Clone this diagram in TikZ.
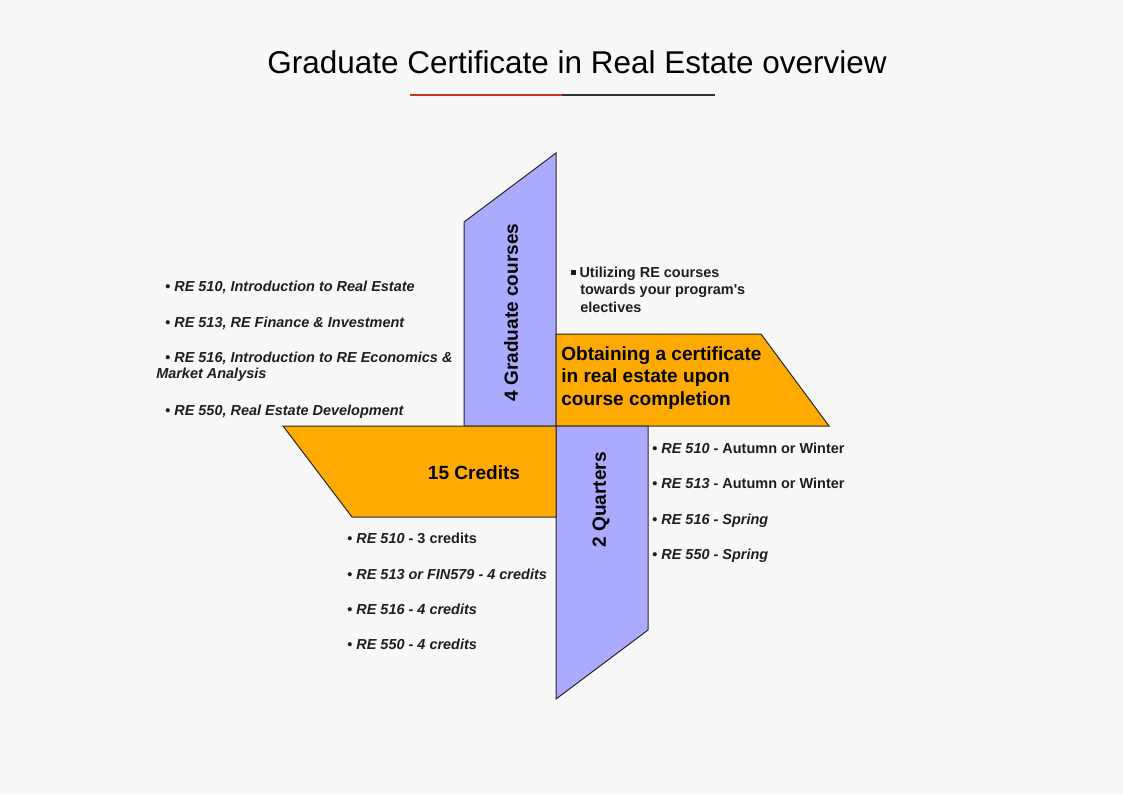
\documentclass[tikz,border=0pt]{standalone}
\usepackage{fontspec}
\setmainfont{Liberation Sans}

\begin{document}
\begin{tikzpicture}[x=0.75pt,y=0.75pt,yscale=-1,xscale=1,
    bluepanel/.style={draw={rgb, 255:red, 40; green, 40; blue, 40 }, line width=0.75pt, fill={rgb, 255:red, 170; green, 170; blue, 255 }},
    orangepanel/.style={draw={rgb, 255:red, 40; green, 40; blue, 40 }, line width=0.75pt, fill={rgb, 255:red, 255; green, 170; blue, 0 }},
    bigtext/.style={font=\fontsize{14.3}{17}\selectfont\bfseries, inner sep=0pt},
    listtext/.style={font=\fontsize{10.85}{13}\selectfont\bfseries, text={rgb, 255:red, 30; green, 30; blue, 30 }, inner sep=0pt, anchor=base west}]

    %Shape: Background
    \fill [fill={rgb, 255:red, 248; green, 248; blue, 248 }] (0,0) rectangle (1123,794);
    \useasboundingbox (0,0) rectangle (1123,794);

    % Text Node
    \draw (577,73) node (title) [anchor=base, inner sep=0pt, font=\fontsize{23.6}{28}\selectfont] {Graduate Certificate in Real Estate overview};
    %Straight Lines
    \draw [color={rgb, 255:red, 192; green, 57; blue, 43 }, line width=1.5pt] (410,94.5) -- (562,94.5);
    \draw [color={rgb, 255:red, 51; green, 51; blue, 51 }, line width=1.5pt] (562,94.5) -- (715,94.5);

    %Shape: Polygon [top]
    \draw [bluepanel] (464,222) -- (556,153) -- (556,426) -- (464,426) -- cycle;
    %Shape: Polygon [right]
    \draw [orangepanel] (556,334) -- (761,334) -- (829,426) -- (556,426) -- cycle;
    %Shape: Polygon [bottom]
    \draw [bluepanel] (556,426) -- (648,426) -- (648,630) -- (556,699) -- cycle;
    %Shape: Polygon [left]
    \draw [orangepanel] (283,426) -- (556,426) -- (556,517) -- (352,517) -- cycle;

    % Text Node
    \draw (511,312.5) node (courses) [bigtext, rotate=90] {4 Graduate courses};
    % Text Node
    \draw (601,500) node (quarters) [bigtext, rotate=90] {2 Quarters};
    % Text Node
    \draw (474,479.5) node (credits) [bigtext, anchor=base] {15 Credits};
    % Text Node
    \draw (561,360) node (certificate) [bigtext, anchor=base west] {Obtaining a certificate};
    \draw (561,382.5) node (certificateb) [bigtext, anchor=base west] {in real estate upon};
    \draw (561,405) node (certificatec) [bigtext, anchor=base west] {course completion};

    % Text Node
    \draw (571,277) node (electives) [listtext] {\rule[1.2pt]{3.8pt}{3.8pt}\hspace{2.4pt}Utilizing RE courses};
    \draw (580,294.5) node (electivesb) [listtext] {towards your program\textquotesingle s};
    \draw (580,312) node (electivesc) [listtext] {electives};

    % Text Node
    \draw (165,291) node (introre) [listtext] {• \textit{RE 510, Introduction to Real Estate}};
    \draw (165,327) node (finance) [listtext] {• \textit{RE 513, RE Finance \& Investment}};
    \draw (165,362.5) node (economics) [listtext] {• \textit{RE 516, Introduction to RE Economics \&}};
    \draw (156,378.5) node (economicsb) [listtext] {\textit{Market Analysis}};
    \draw (165,415) node (development) [listtext] {• \textit{RE 550, Real Estate Development}};

    % Text Node
    \draw (347,543) node (creditsa) [listtext] {• \textit{RE 510} - 3 credits};
    \draw (347,579) node (creditsb) [listtext] {• \textit{RE 513 or FIN579 - 4 credits}};
    \draw (347,614) node (creditsc) [listtext] {• \textit{RE 516 - 4 credits}};
    \draw (347,649) node (creditsd) [listtext] {• \textit{RE 550 - 4 credits}};

    % Text Node
    \draw (652,453.5) node (quartera) [listtext] {• \textit{RE 510} - Autumn or Winter};
    \draw (652,488.5) node (quarterb) [listtext] {• \textit{RE 513} - Autumn or Winter};
    \draw (652,524) node (quarterc) [listtext] {• \textit{RE 516 - Spring}};
    \draw (652,559) node (quarterd) [listtext] {• \textit{RE 550 - Spring}};
\end{tikzpicture}
\end{document}
